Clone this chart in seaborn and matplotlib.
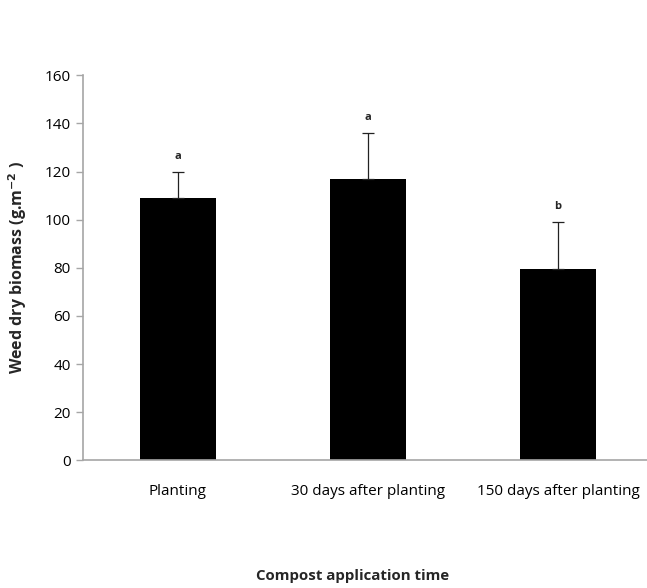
import matplotlib
matplotlib.use("Agg")
import matplotlib.pyplot as plt
import seaborn as sns
import pandas as pd

# Weed dry biomass by compost application time
categories = ["Planting", "30 days after planting", "150 days after planting"]
biomass = [109, 117, 79.5]
error_upper = [11, 19, 19.5]
letters = ["a", "a", "b"]
y_ticks = [0, 20, 40, 60, 80, 100, 120, 140, 160]

df = pd.DataFrame({"time": categories, "biomass": biomass})

sns.set_style("white")
plt.rcParams["font.family"] = ["Open Sans", "DejaVu Sans"]

fig = plt.figure(figsize=(6.47, 5.88), dpi=100)
ax = fig.add_axes([83 / 647, (588 - 460.3) / 588, 570 / 647, 385 / 588])

sns.barplot(data=df, x="time", y="biomass", color="black", width=0.405,
            errorbar=None, saturation=1, ax=ax)
for p in ax.patches:
    p.set_linewidth(0)

xs = list(range(len(categories)))
ax.errorbar(xs, biomass, yerr=[[0] * len(xs), error_upper], fmt="none",
            ecolor="#222222", elinewidth=0.9, capsize=4, capthick=0.9)

for x, v, e, t in zip(xs, biomass, error_upper, letters):
    ax.text(x, v + e + 4, t, ha="center", va="bottom",
            fontsize=8, fontweight="bold")

ax.set_xlim(-0.5, 2.5)
ax.set_ylim(0, 160)
ax.set_yticks(y_ticks)
ax.set_yticklabels([str(t) for t in y_ticks], fontsize=11)
ax.set_xticks(xs)
ax.set_xticklabels(categories, fontsize=11)

for s in ["top", "right"]:
    ax.spines[s].set_visible(False)
for s in ["left", "bottom"]:
    ax.spines[s].set_color("#A6A6A6")
    ax.spines[s].set_linewidth(1.2)

ax.tick_params(axis="y", direction="out", length=5, width=1, color="#A6A6A6",
               pad=4, labelcolor="black", left=True)
ax.tick_params(axis="x", length=0, pad=17, labelcolor="black")

ax.set_ylabel("Weed dry biomass (g.m$^{\\mathbf{-2}}$ )", fontsize=11.5,
              fontweight="bold", labelpad=11)
ax.set_xlabel("")
fig.text(353 / 647, 1 - 576 / 588, "Compost application time", fontsize=10.8,
         fontweight="bold", ha="center", va="center")

fig.savefig("out.png", dpi=100)
